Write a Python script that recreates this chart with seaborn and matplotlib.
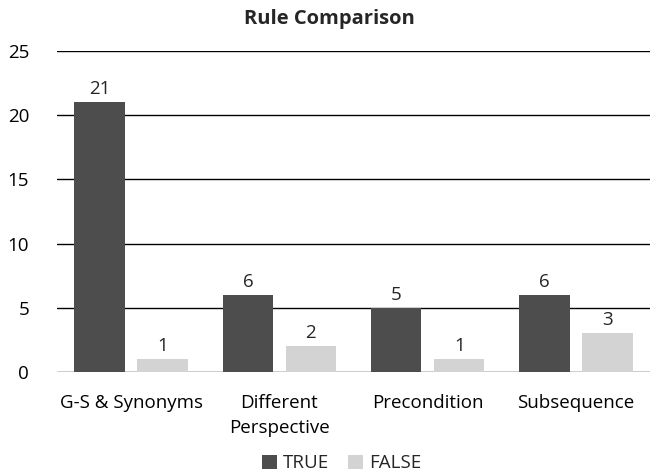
import matplotlib
matplotlib.use("Agg")
import matplotlib.pyplot as plt
import seaborn as sns
import pandas as pd

categories = ["G-S & Synonyms", "Different\nPerspective", "Precondition", "Subsequence"]
true_vals = [21, 6, 5, 6]
false_vals = [1, 2, 1, 3]
series = ["TRUE", "FALSE"]

df = pd.DataFrame({
    "cat": categories * 2,
    "val": true_vals + false_vals,
    "series": [series[0]] * 4 + [series[1]] * 4,
})

sns.set_style("white")
plt.rcParams["font.family"] = ["Open Sans", "DejaVu Sans"]

fig = plt.figure(figsize=(6.58, 4.76), dpi=100)
ax = fig.add_axes([0.0866, 0.2185, 0.9014, 0.6745])

sns.barplot(data=df, x="cat", y="val", hue="series", palette=["#4d4d4d", "#d3d3d3"],
            width=0.85, gap=0.2, linewidth=0, ax=ax, legend=True, zorder=3)

ax.set_ylim(0, 25)
ax.set_yticks(range(0, 26, 5))
ax.set_xlim(-0.5, 3.5)
ax.yaxis.grid(True, color="black", linewidth=1, zorder=0)
ax.set_axisbelow(True)
for s in ax.spines.values():
    s.set_visible(False)
ax.tick_params(axis="both", length=0, labelsize=13.5, colors="black")
ax.tick_params(axis="x", pad=16)
ax.tick_params(axis="y", pad=20)
for t in ax.get_xticklabels():
    t.set_linespacing(1.45)
ax.set_xlabel("")
ax.set_ylabel("")

for cont in ax.containers:
    ax.bar_label(cont, padding=3, fontsize=13.5)

fig.text(0.5, 0.96, "Rule Comparison", ha="center", va="center",
         fontsize=14.5, fontweight="bold")

handles, labels = ax.get_legend_handles_labels()
ax.legend(handles, labels, loc="center", bbox_to_anchor=(0.48, -0.285), ncol=2,
          frameon=False, fontsize=13.5, handlelength=0.8, handleheight=0.8,
          handletextpad=0.3, columnspacing=1.0)

fig.savefig("out.png", dpi=100)
